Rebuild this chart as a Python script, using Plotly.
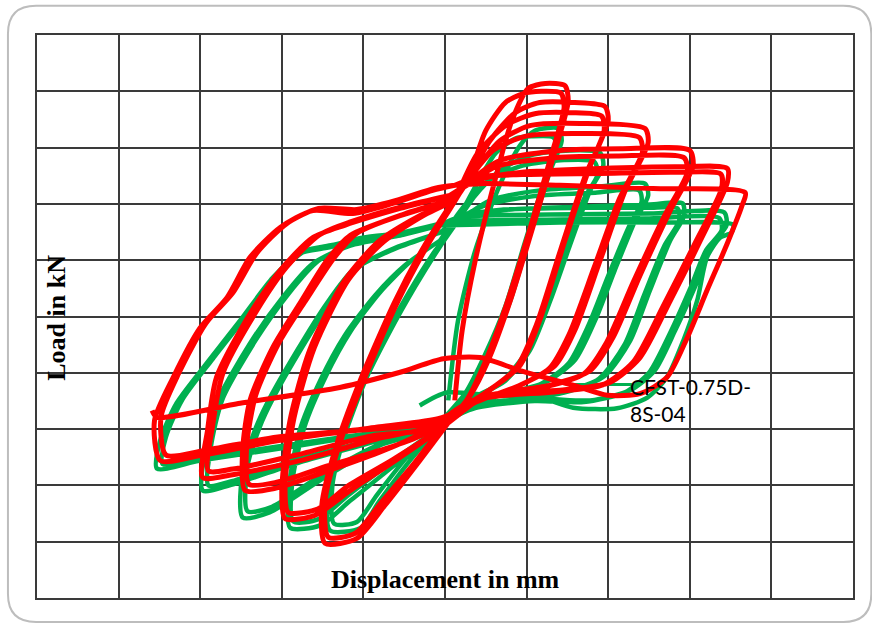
import plotly.graph_objects as go

# ---- data (displacement in mm, load in kN) ----
# red specimen: cycles in loading order (b = repeat cycle at the same amplitude)
red_loop1_disp = [1.2, 2.1, 3.7, 6.1, 8.2, 10.2, 12.3, 14.7, 15.1, 13.5, 11.0, 8.0, 5.3, 3.1, 0.6, -3.1, -7.4, -10.8, -14.7, -15.1, -13.5, -10.4, -6.1, -2.5, 0.6, 3.1]
red_loop1_load = [-149, -25, 99, 241, 348, 405, 414, 410, 383, 295, 170, 28, -78, -140, -185, -256, -336, -394, -403, -336, -238, -114, 28, 126, 197, 250]
red_loop1b_disp = [3.1, 5.0, 7.4, 9.6, 11.8, 14.2, 14.6, 13.0, 10.5, 7.5, 4.8, 2.6, -0.5, -4.0, -7.8, -11.0, -14.3, -14.7, -13.0, -9.8, -5.6, -2.0, 1.0, 3.1]
red_loop1b_load = [250, 330, 380, 396, 400, 397, 372, 285, 160, 20, -85, -150, -200, -265, -330, -385, -392, -328, -230, -108, 32, 130, 200, 250]
red_loop2_disp = [3.1, 5.5, 8.6, 11.6, 15.9, 19.6, 20.0, 17.8, 14.7, 11.6, 9.2, 5.5, 2.5, -1.5, -6.0, -11.6, -15.9, -19.6, -20.0, -19.0, -16.6, -12.3, -8.0, -3.1, 1.2]
red_loop2_load = [250, 312, 362, 380, 380, 373, 348, 268, 135, -7, -87, -131, -165, -210, -255, -309, -353, -359, -309, -185, -60, 64, 135, 179, 206]
red_loop2b_disp = [1.2, 4.0, 7.5, 11.0, 15.5, 19.2, 19.5, 17.2, 14.2, 11.2, 8.7, 5.0, 1.0, -2.2, -6.5, -11.8, -15.6, -19.2, -19.6, -18.5, -16.0, -11.8, -7.5, -2.8, 1.2]
red_loop2b_load = [206, 290, 340, 360, 362, 356, 330, 250, 120, -15, -92, -135, -172, -215, -255, -300, -342, -348, -300, -180, -55, 66, 133, 178, 206]
red_loop3_disp = [1.2, 3.7, 6.7, 10.4, 16.6, 24.5, 24.9, 22.1, 19.0, 15.9, 13.5, 9.2, 3.8, -2.5, -7.5, -14.1, -20.8, -24.5, -24.8, -23.9, -21.1, -17.8, -14.5, -11.6, -5.5, 0.6]
red_loop3_load = [206, 259, 312, 339, 343, 334, 309, 224, 99, -25, -87, -122, -152, -205, -238, -273, -305, -309, -238, -149, -55, 23, 99, 144, 179, 206]
red_loop3b_disp = [0.6, 3.2, 6.0, 9.8, 16.0, 23.8, 24.2, 21.4, 18.3, 15.2, 12.8, 8.6, 2.0, -3.0, -8.0, -14.3, -20.5, -24.0, -24.3, -23.2, -20.4, -17.0, -13.6, -10.8, -5.0, 0.6]
red_loop3b_load = [206, 250, 296, 320, 325, 318, 292, 210, 88, -32, -92, -126, -160, -212, -238, -265, -294, -298, -230, -140, -48, 30, 104, 148, 182, 206]
red_loop4_disp = [0.6, 3.1, 6.7, 14.1, 21.5, 30.0, 30.4, 27.6, 23.9, 20.6, 17.8, 12.9, 5.0, -1.5, -8.5, -17.8, -26.4, -29.7, -29.1, -28.0, -23.9, -20.2, -16.2, -12.3, -5.5, 0.6]
red_loop4_load = [206, 241, 277, 295, 298, 295, 268, 188, 73, -37, -96, -122, -142, -195, -218, -256, -282, -286, -202, -108, 5, 82, 140, 162, 192, 215]
red_loop4b_disp = [0.6, 3.0, 6.2, 13.5, 21.0, 29.3, 29.7, 26.8, 23.1, 19.8, 17.0, 12.0, 3.2, -2.0, -9.0, -18.2, -26.0, -29.0, -28.5, -27.2, -23.0, -19.4, -15.4, -11.6, -5.0, 0.6]
red_loop4b_load = [215, 236, 266, 282, 285, 282, 256, 176, 62, -46, -102, -126, -150, -200, -212, -246, -271, -274, -196, -100, 12, 88, 145, 168, 196, 215]
red_loop5_disp = [0.6, 3.7, 9.2, 19.0, 28.8, 34.6, 34.6, 31.3, 27.6, 23.9, 20.2, 14.1, 6.0, -0.5, -8.0, -20.2, -30.0, -34.9, -35.6, -33.3, -30.0, -26.7, -23.9, -20.2, -16.2, -11.3, -6.4, -1.5, 1.2]
red_loop5_load = [215, 241, 256, 263, 266, 263, 238, 135, 28, -73, -117, -131, -138, -180, -196, -220, -247, -256, -185, -108, -20, 34, 105, 158, 188, 183, 201, 224, 233]
red_loop5b_disp = [1.2, 4.0, 9.5, 19.0, 28.0, 33.8, 33.9, 30.5, 26.8, 23.1, 19.4, 13.4, 4.5, -1.0, -8.6, -20.5, -29.5, -34.2, -34.8, -32.6, -29.3, -26.0, -23.1, -19.4, -15.5, -10.8, -6.0, -1.2, 1.2]
red_loop5b_load = [233, 248, 252, 254, 256, 253, 228, 126, 20, -80, -121, -134, -146, -188, -200, -214, -238, -246, -178, -100, -12, 42, 112, 165, 192, 190, 206, 228, 233]
red_loop6_disp = [1.2, 4.3, 14.1, 26.4, 36.8, 36.4, 34.6, 32.1, 29.7, 27.2, 23.9, 19.9, 15.7, 9.2, 4.3, -0.2, -5.5, -12.9, -25.1, -35.3, -35.9]
red_loop6_load = [233, 236, 233, 227, 220, 197, 130, 46, -37, -108, -137, -140, -122, -96, -73, -75, -99, -126, -154, -179, -167]

# green specimen
green_loop1_disp = [0.4, 1.6, 3.7, 6.7, 9.2, 11.0, 13.9, 14.3, 12.9, 10.4, 8.0, 5.5, 3.1, 0.0, -4.3, -8.0, -10.4, -14.1, -14.3, -12.9, -10.4, -7.4, -4.3, -1.2, 1.2]
green_loop1_load = [-149, -7, 117, 233, 304, 330, 334, 312, 259, 144, 28, -60, -131, -185, -256, -327, -376, -380, -309, -220, -122, -34, 46, 117, 162]
green_loop1b_disp = [1.2, 3.5, 6.2, 8.6, 10.6, 13.3, 13.7, 12.3, 9.8, 7.4, 4.9, 2.5, -0.6, -4.8, -8.4, -10.8, -13.6, -13.8, -12.3, -9.8, -6.8, -3.7, -0.8, 1.2]
green_loop1b_load = [162, 225, 290, 316, 320, 318, 298, 245, 132, 18, -68, -136, -188, -252, -318, -365, -368, -300, -212, -115, -28, 52, 120, 162]
green_loop2_disp = [1.2, 3.7, 6.7, 10.4, 15.3, 19.0, 19.4, 17.8, 15.3, 12.9, 10.4, 7.4, 3.1, -1.0, -5.5, -11.6, -15.3, -19.0, -19.1, -17.8, -15.3, -12.3, -8.6, -4.9, -0.6]
green_loop2_load = [162, 215, 259, 286, 295, 291, 268, 224, 126, 28, -60, -114, -149, -200, -256, -327, -371, -375, -300, -202, -114, -34, 37, 91, 135]
green_loop2b_disp = [-0.6, 2.0, 5.2, 9.5, 14.6, 18.3, 18.7, 17.0, 14.6, 12.2, 9.8, 6.8, 2.5, -1.5, -6.0, -11.9, -15.5, -18.6, -18.7, -17.2, -14.6, -11.6, -7.9, -4.2, -0.6]
green_loop2b_load = [135, 190, 240, 268, 278, 275, 252, 208, 112, 18, -66, -118, -152, -205, -252, -318, -360, -364, -292, -195, -106, -27, 44, 98, 135]
green_loop3_disp = [-0.6, 1.8, 5.5, 11.6, 19.0, 24.5, 24.9, 23.3, 20.8, 18.4, 15.9, 12.3, 6.7, 1.8, -2.5, -8.0, -15.3, -21.5, -24.8, -24.8, -23.3, -21.8, -18.1, -14.5, -11.3, -6.7, -0.6]
green_loop3_load = [135, 170, 206, 224, 231, 236, 215, 170, 82, -7, -78, -117, -140, -167, -205, -229, -291, -348, -357, -273, -202, -154, -60, 23, 82, 117, 149]
green_loop3b_disp = [-0.6, 1.5, 5.0, 11.0, 18.4, 23.8, 24.1, 22.5, 20.0, 17.6, 15.1, 11.6, 6.0, 1.2, -2.3, -8.5, -15.6, -21.2, -24.2, -24.2, -22.7, -21.1, -17.4, -13.8, -10.6, -6.1, -0.6]
green_loop3b_load = [149, 172, 198, 214, 220, 224, 204, 158, 72, -15, -84, -121, -143, -170, -196, -230, -286, -338, -346, -266, -196, -146, -52, 30, 88, 122, 149]
green_loop4_disp = [-0.6, 1.8, 6.7, 16.6, 25.1, 29.1, 29.3, 27.6, 25.1, 22.7, 19.6, 15.3, 9.2, 3.1, -1.5, -8.0, -17.8, -26.4, -29.7, -29.4, -28.0, -23.9, -19.9, -16.2, -11.6, -5.5, 0.0]
green_loop4_load = [149, 170, 188, 195, 199, 201, 179, 135, 46, -43, -105, -131, -146, -158, -192, -220, -259, -300, -309, -238, -154, -48, 34, 94, 126, 144, 167]
green_loop4b_disp = [0.0, 2.4, 7.2, 16.8, 24.8, 28.5, 28.7, 26.9, 24.4, 22.0, 18.9, 14.6, 8.6, 2.6, -1.2, -8.6, -18.2, -26.0, -29.0, -28.7, -27.3, -23.2, -19.2, -15.5, -10.9, -4.9, 0.0]
green_loop4b_load = [167, 180, 190, 193, 193, 192, 170, 126, 38, -50, -110, -135, -149, -161, -187, -218, -254, -292, -300, -232, -148, -42, 40, 99, 131, 150, 167]
green_loop5_disp = [0.0, 3.1, 12.9, 25.1, 34.2, 34.5, 32.7, 30.7, 28.2, 25.7, 22.7, 17.8, 11.6, 4.3, 0.0, -8.0, -17.8, -30.0, -35.3, -34.9, -32.9, -29.2, -25.1, -21.1, -17.8, -14.5, -10.8, -5.5, -0.6]
green_loop5_load = [167, 178, 181, 183, 185, 162, 126, 55, -25, -96, -131, -149, -146, -158, -185, -206, -229, -256, -270, -220, -154, -83, -7, 69, 112, 122, 135, 144, 162]
green_loop5b_disp = [-0.6, 3.0, 12.5, 24.6, 33.6, 33.9, 32.0, 30.0, 27.5, 25.0, 22.0, 17.0, 11.0, 3.8, -0.6, -8.5, -18.2, -29.5, -34.6, -34.2, -32.2, -28.5, -24.4, -20.4, -17.1, -13.8, -10.1, -4.9, -0.6]
green_loop5b_load = [162, 170, 172, 174, 175, 153, 118, 48, -32, -100, -135, -152, -150, -162, -187, -206, -226, -250, -262, -214, -148, -76, 0, 75, 117, 127, 140, 149, 162]
green_loop6_disp = [-0.6, 3.1, 14.1, 26.4, 35.3, 35.1, 33.7, 32.1, 30.9, 29.2, 27.2, 24.8, 21.1, 15.7, 11.6, 5.5, 0.2, -3.1]
green_loop6_load = [162, 163, 167, 167, 163, 149, 140, 105, 28, -43, -108, -144, -163, -162, -144, -140, -135, -158]

leader_disp = [15.7, 22.9]
leader_load = [-121, -121]

label_text = "CFST-0.75D-<br>8S-04"
x_title = "Displacement in mm"
y_title = "Load in kN"

RED = "#FF0000"
GREEN = "#00B050"

red_x = (red_loop1_disp + red_loop1b_disp + red_loop2_disp + red_loop2b_disp + red_loop3_disp + red_loop3b_disp
         + red_loop4_disp + red_loop4b_disp + red_loop5_disp + red_loop5b_disp + red_loop6_disp)
red_y = (red_loop1_load + red_loop1b_load + red_loop2_load + red_loop2b_load + red_loop3_load + red_loop3b_load
         + red_loop4_load + red_loop4b_load + red_loop5_load + red_loop5b_load + red_loop6_load)
green_x = (green_loop1_disp + green_loop1b_disp + green_loop2_disp + green_loop2b_disp + green_loop3_disp
           + green_loop3b_disp + green_loop4_disp + green_loop4b_disp + green_loop5_disp + green_loop5b_disp
           + green_loop6_disp)
green_y = (green_loop1_load + green_loop1b_load + green_loop2_load + green_loop2b_load + green_loop3_load
           + green_loop3b_load + green_loop4_load + green_loop4b_load + green_loop5_load + green_loop5b_load
           + green_loop6_load)

fig = go.Figure()
fig.add_trace(go.Scatter(x=green_x, y=green_y, mode="lines",
                         line=dict(color=GREEN, width=4.5, shape="spline", smoothing=0.7),
                         hoverinfo="skip"))
fig.add_trace(go.Scatter(x=leader_disp, y=leader_load, mode="lines",
                         line=dict(color=GREEN, width=3), hoverinfo="skip"))
fig.add_trace(go.Scatter(x=red_x, y=red_y, mode="lines",
                         line=dict(color=RED, width=5, shape="spline", smoothing=0.7),
                         hoverinfo="skip"))

grid = "#3a3a3a"
fig.update_xaxes(range=[-50, 50], dtick=10, tick0=0, showgrid=True, gridcolor=grid, gridwidth=1.6,
                 showticklabels=False, ticks="", zeroline=False,
                 showline=True, linecolor=grid, linewidth=1.6, mirror=True)
fig.update_yaxes(range=[-500, 500], dtick=100, tick0=0, showgrid=True, gridcolor=grid, gridwidth=1.6,
                 showticklabels=False, ticks="", zeroline=False,
                 showline=True, linecolor=grid, linewidth=1.6, mirror=True)

fig.add_annotation(x=0, y=-468, text="<b>" + x_title + "</b>", showarrow=False,
                   font=dict(family="Liberation Serif", size=26, color="black"),
                   xanchor="center", yanchor="middle")
fig.add_annotation(x=-47.6, y=-3, text="<b>" + y_title + "</b>", showarrow=False, textangle=-90,
                   font=dict(family="Liberation Serif", size=26, color="black"),
                   xanchor="center", yanchor="middle")
fig.add_annotation(x=22.4, y=-149, text=label_text, showarrow=False, align="left",
                   font=dict(family="Lato", size=21, color="black"),
                   xanchor="left", yanchor="middle")

# rounded outer frame
fig.add_shape(type="path", xref="paper", yref="paper",
              path=("M -0.0012 1.0518 L 0.9881 1.0518 Q 1.0224 1.0518 1.0224 1.0021 "
                    "L 1.0224 0.0071 Q 1.0224 -0.0426 0.9881 -0.0426 "
                    "L -0.0012 -0.0426 Q -0.0356 -0.0426 -0.0356 0.0071 "
                    "L -0.0356 1.0021 Q -0.0356 1.0518 -0.0012 1.0518 Z"),
              line=dict(color="#bdbdbd", width=2), layer="below")

fig.update_layout(width=872, height=624, margin=dict(l=37, r=19, t=35, b=26),
                  paper_bgcolor="white", plot_bgcolor="white", showlegend=False)

fig.write_html("out.html")
